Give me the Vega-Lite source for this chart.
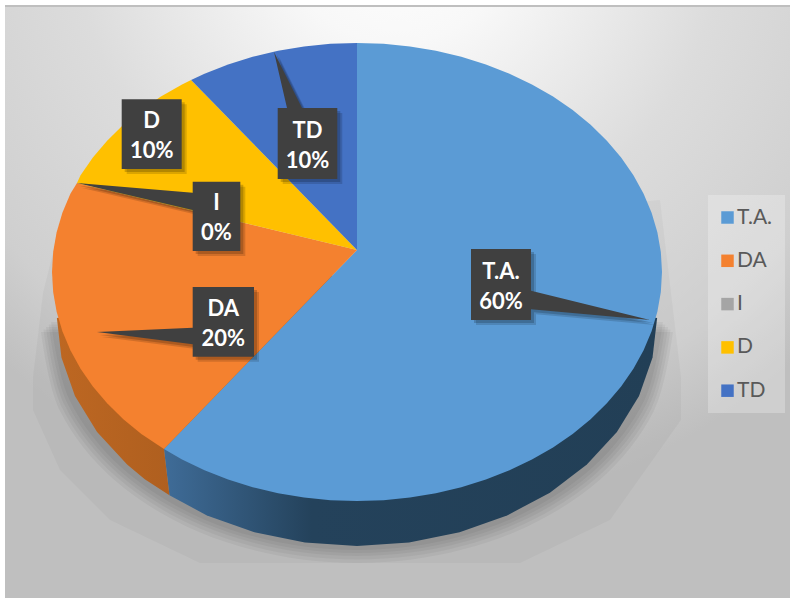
{"$schema":"https://vega.github.io/schema/vega-lite/v6.json","width":790,"height":599,"padding":0,"autosize":"none","background":"white","config":{"view":{"stroke":null}},
"datasets":{
"frame":[{"x":-1.1541,"x2":1.41967,"y":1.1572,"y2":-1.4236}],
"edge":[{"x":-1.1541,"x2":1.41967,"y":1.1659,"y2":1.1572}],
"outerShadow":[{"i":0,"x":-0.9967,"y":0.083},{"i":1,"x":-1.0295,"y":-0.0917},{"i":2,"x":-1.0623,"y":-0.4585},{"i":3,"x":-1.0623,"y":-0.6026},{"i":4,"x":-0.9738,"y":-0.8646},{"i":5,"x":-0.8098,"y":-1.083},{"i":6,"x":-0.5148,"y":-1.2707},{"i":7,"x":0.5344,"y":-1.2707},{"i":8,"x":0.8295,"y":-1.083},{"i":9,"x":1.0623,"y":-0.6463},{"i":10,"x":1.0623,"y":-0.4585},{"i":11,"x":0.9934,"y":0.3144},{"i":12,"x":-0.9967,"y":0.083}],
"softShadow":[
{"k":"a","i":0,"x":1.036,"y":-0.262},{"k":"a","i":1,"x":0.9735,"y":-0.607},{"k":"a","i":2,"x":0.7936,"y":-0.9104},{"k":"a","i":3,"x":0.518,"y":-1.1355},{"k":"a","i":4,"x":0.1799,"y":-1.2554},{"k":"a","i":5,"x":-0.1799,"y":-1.2554},{"k":"a","i":6,"x":-0.518,"y":-1.1355},{"k":"a","i":7,"x":-0.7936,"y":-0.9104},{"k":"a","i":8,"x":-0.9735,"y":-0.607},{"k":"a","i":9,"x":-1.036,"y":-0.262},
{"k":"d","i":0,"x":1.028,"y":-0.251},{"k":"d","i":1,"x":0.966,"y":-0.5946},{"k":"d","i":2,"x":0.7875,"y":-0.8967},{"k":"d","i":3,"x":0.514,"y":-1.1208},{"k":"d","i":4,"x":0.1785,"y":-1.2402},{"k":"d","i":5,"x":-0.1785,"y":-1.2402},{"k":"d","i":6,"x":-0.514,"y":-1.1208},{"k":"d","i":7,"x":-0.7875,"y":-0.8967},{"k":"d","i":8,"x":-0.966,"y":-0.5946},{"k":"d","i":9,"x":-1.028,"y":-0.251},
{"k":"b","i":0,"x":1.02,"y":-0.2402},{"k":"b","i":1,"x":0.9585,"y":-0.5822},{"k":"b","i":2,"x":0.7813,"y":-0.883},{"k":"b","i":3,"x":0.51,"y":-1.1062},{"k":"b","i":4,"x":0.1771,"y":-1.225},{"k":"b","i":5,"x":-0.1771,"y":-1.225},{"k":"b","i":6,"x":-0.51,"y":-1.1062},{"k":"b","i":7,"x":-0.7813,"y":-0.883},{"k":"b","i":8,"x":-0.9585,"y":-0.5822},{"k":"b","i":9,"x":-1.02,"y":-0.2402},
{"k":"e","i":0,"x":1.011,"y":-0.229},{"k":"e","i":1,"x":0.9505,"y":-0.5705},{"k":"e","i":2,"x":0.7748,"y":-0.8707},{"k":"e","i":3,"x":0.5058,"y":-1.0934},{"k":"e","i":4,"x":0.1756,"y":-1.2119},{"k":"e","i":5,"x":-0.1756,"y":-1.2119},{"k":"e","i":6,"x":-0.5058,"y":-1.0934},{"k":"e","i":7,"x":-0.7748,"y":-0.8707},{"k":"e","i":8,"x":-0.9505,"y":-0.5705},{"k":"e","i":9,"x":-1.011,"y":-0.229},
{"k":"c","i":0,"x":1.003,"y":-0.2183},{"k":"c","i":1,"x":0.9425,"y":-0.5588},{"k":"c","i":2,"x":0.7683,"y":-0.8583},{"k":"c","i":3,"x":0.5015,"y":-1.0805},{"k":"c","i":4,"x":0.1741,"y":-1.1988},{"k":"c","i":5,"x":-0.1741,"y":-1.1988},{"k":"c","i":6,"x":-0.5015,"y":-1.0805},{"k":"c","i":7,"x":-0.7683,"y":-0.8583},{"k":"c","i":8,"x":-0.9425,"y":-0.5588},{"k":"c","i":9,"x":-1.003,"y":-0.2183}],
"wallTA":[{"i":0,"x":0.984,"y":-0.2009},{"i":1,"x":0.969,"y":-0.3738},{"i":2,"x":0.9247,"y":-0.5414},{"i":3,"x":0.8522,"y":-0.6987},{"i":4,"x":0.7537,"y":-0.8409},{"i":5,"x":0.6325,"y":-0.9635},{"i":6,"x":0.492,"y":-1.0631},{"i":7,"x":0.3365,"y":-1.1365},{"i":8,"x":0.1708,"y":-1.1814},{"i":9,"x":0,"y":-1.1965},{"i":10,"x":-0.1708,"y":-1.1814},{"i":11,"x":-0.3365,"y":-1.1365},{"i":12,"x":-0.492,"y":-1.0631},{"i":13,"x":-0.615,"y":-0.975},{"i":14,"x":-0.633,"y":-0.773},{"i":15,"x":0,"y":0},{"i":16,"x":0.984,"y":-0.2009}],
"wallDA":[{"i":0,"x":-0.633,"y":-0.773},{"i":1,"x":-0.615,"y":-0.975},{"i":2,"x":-0.6958,"y":-0.9049},{"i":3,"x":-0.7537,"y":-0.8409},{"i":4,"x":-0.8522,"y":-0.6987},{"i":5,"x":-0.9247,"y":-0.5414},{"i":6,"x":-0.969,"y":-0.3738},{"i":7,"x":-0.984,"y":-0.2009},{"i":8,"x":0,"y":0},{"i":9,"x":-0.633,"y":-0.773}],
"slices":[
{"slice":"T.A.","i":0,"x":0,"y":0.096},{"slice":"T.A.","i":1,"x":0,"y":1},{"slice":"T.A.","i":2,"x":0.0872,"y":0.9962},{"slice":"T.A.","i":3,"x":0.1736,"y":0.9848},{"slice":"T.A.","i":4,"x":0.2588,"y":0.9659},{"slice":"T.A.","i":5,"x":0.342,"y":0.9397},{"slice":"T.A.","i":6,"x":0.4226,"y":0.9063},{"slice":"T.A.","i":7,"x":0.5,"y":0.866},{"slice":"T.A.","i":8,"x":0.5736,"y":0.8192},{"slice":"T.A.","i":9,"x":0.6428,"y":0.766},{"slice":"T.A.","i":10,"x":0.7071,"y":0.7071},{"slice":"T.A.","i":11,"x":0.766,"y":0.6428},{"slice":"T.A.","i":12,"x":0.8192,"y":0.5736},{"slice":"T.A.","i":13,"x":0.866,"y":0.5},{"slice":"T.A.","i":14,"x":0.9063,"y":0.4226},{"slice":"T.A.","i":15,"x":0.9397,"y":0.342},{"slice":"T.A.","i":16,"x":0.9659,"y":0.2588},{"slice":"T.A.","i":17,"x":0.9848,"y":0.1736},{"slice":"T.A.","i":18,"x":0.9962,"y":0.0872},{"slice":"T.A.","i":19,"x":1,"y":0},{"slice":"T.A.","i":20,"x":0.9962,"y":-0.0872},{"slice":"T.A.","i":21,"x":0.9848,"y":-0.1736},{"slice":"T.A.","i":22,"x":0.9659,"y":-0.2588},{"slice":"T.A.","i":23,"x":0.9397,"y":-0.342},{"slice":"T.A.","i":24,"x":0.9063,"y":-0.4226},{"slice":"T.A.","i":25,"x":0.866,"y":-0.5},{"slice":"T.A.","i":26,"x":0.8192,"y":-0.5736},{"slice":"T.A.","i":27,"x":0.766,"y":-0.6428},{"slice":"T.A.","i":28,"x":0.7071,"y":-0.7071},{"slice":"T.A.","i":29,"x":0.6428,"y":-0.766},{"slice":"T.A.","i":30,"x":0.5736,"y":-0.8192},{"slice":"T.A.","i":31,"x":0.5,"y":-0.866},{"slice":"T.A.","i":32,"x":0.4226,"y":-0.9063},{"slice":"T.A.","i":33,"x":0.342,"y":-0.9397},{"slice":"T.A.","i":34,"x":0.2588,"y":-0.9659},{"slice":"T.A.","i":35,"x":0.1736,"y":-0.9848},{"slice":"T.A.","i":36,"x":0.0872,"y":-0.9962},{"slice":"T.A.","i":37,"x":0,"y":-1},{"slice":"T.A.","i":38,"x":-0.0872,"y":-0.9962},{"slice":"T.A.","i":39,"x":-0.1736,"y":-0.9848},{"slice":"T.A.","i":40,"x":-0.2588,"y":-0.9659},{"slice":"T.A.","i":41,"x":-0.342,"y":-0.9397},{"slice":"T.A.","i":42,"x":-0.4226,"y":-0.9063},{"slice":"T.A.","i":43,"x":-0.5,"y":-0.866},{"slice":"T.A.","i":44,"x":-0.5736,"y":-0.8192},{"slice":"T.A.","i":45,"x":-0.633,"y":-0.773},{"slice":"T.A.","i":46,"x":0,"y":0.096},
{"slice":"DA","i":0,"x":0,"y":0.096},{"slice":"DA","i":1,"x":-0.633,"y":-0.773},{"slice":"DA","i":2,"x":-0.7071,"y":-0.7071},{"slice":"DA","i":3,"x":-0.766,"y":-0.6428},{"slice":"DA","i":4,"x":-0.8192,"y":-0.5736},{"slice":"DA","i":5,"x":-0.866,"y":-0.5},{"slice":"DA","i":6,"x":-0.9063,"y":-0.4226},{"slice":"DA","i":7,"x":-0.9397,"y":-0.342},{"slice":"DA","i":8,"x":-0.9659,"y":-0.2588},{"slice":"DA","i":9,"x":-0.9848,"y":-0.1736},{"slice":"DA","i":10,"x":-0.9962,"y":-0.0872},{"slice":"DA","i":11,"x":-1,"y":0},{"slice":"DA","i":12,"x":-0.9962,"y":0.0872},{"slice":"DA","i":13,"x":-0.9848,"y":0.1736},{"slice":"DA","i":14,"x":-0.9659,"y":0.2588},{"slice":"DA","i":15,"x":-0.9397,"y":0.342},{"slice":"DA","i":16,"x":-0.918,"y":0.389},{"slice":"DA","i":17,"x":0,"y":0.096},
{"slice":"D","i":0,"x":0,"y":0.096},{"slice":"D","i":1,"x":-0.918,"y":0.389},{"slice":"D","i":2,"x":-0.9063,"y":0.4226},{"slice":"D","i":3,"x":-0.866,"y":0.5},{"slice":"D","i":4,"x":-0.8192,"y":0.5736},{"slice":"D","i":5,"x":-0.766,"y":0.6428},{"slice":"D","i":6,"x":-0.7071,"y":0.7071},{"slice":"D","i":7,"x":-0.6428,"y":0.766},{"slice":"D","i":8,"x":-0.5736,"y":0.8192},{"slice":"D","i":9,"x":-0.544,"y":0.838},{"slice":"D","i":10,"x":0,"y":0.096},
{"slice":"TD","i":0,"x":0,"y":0.096},{"slice":"TD","i":1,"x":-0.544,"y":0.838},{"slice":"TD","i":2,"x":-0.5,"y":0.866},{"slice":"TD","i":3,"x":-0.4226,"y":0.9063},{"slice":"TD","i":4,"x":-0.342,"y":0.9397},{"slice":"TD","i":5,"x":-0.2588,"y":0.9659},{"slice":"TD","i":6,"x":-0.1736,"y":0.9848},{"slice":"TD","i":7,"x":-0.0872,"y":0.9962},{"slice":"TD","i":8,"x":0,"y":1},{"slice":"TD","i":9,"x":0,"y":0.096}],
"callouts":[
{"c":"D","i":0,"x":-0.7715,"y":0.7541},{"c":"D","i":1,"x":-0.5748,"y":0.7541},{"c":"D","i":2,"x":-0.5748,"y":0.4498},{"c":"D","i":3,"x":-0.7715,"y":0.4498},{"c":"D","i":4,"x":-0.7715,"y":0.7541},
{"c":"TD","i":0,"x":-0.26,"y":0.7162},{"c":"TD","i":1,"x":-0.2295,"y":0.7162},{"c":"TD","i":2,"x":-0.2721,"y":0.9607},{"c":"TD","i":3,"x":-0.1803,"y":0.7162},{"c":"TD","i":4,"x":-0.0646,"y":0.7162},{"c":"TD","i":5,"x":-0.0646,"y":0.4061},{"c":"TD","i":6,"x":-0.26,"y":0.4061},{"c":"TD","i":7,"x":-0.26,"y":0.7162},
{"c":"I","i":0,"x":-0.5387,"y":0.3943},{"c":"I","i":1,"x":-0.3826,"y":0.3943},{"c":"I","i":2,"x":-0.3826,"y":0.0917},{"c":"I","i":3,"x":-0.5387,"y":0.0917},{"c":"I","i":4,"x":-0.5387,"y":0.2707},{"c":"I","i":5,"x":-0.918,"y":0.3886},{"c":"I","i":6,"x":-0.5387,"y":0.3463},{"c":"I","i":7,"x":-0.5387,"y":0.3943},
{"c":"DA","i":0,"x":-0.5387,"y":-0.0655},{"c":"DA","i":1,"x":-0.3377,"y":-0.0655},{"c":"DA","i":2,"x":-0.3377,"y":-0.3699},{"c":"DA","i":3,"x":-0.5387,"y":-0.3699},{"c":"DA","i":4,"x":-0.5387,"y":-0.3157},{"c":"DA","i":5,"x":-0.8525,"y":-0.262},{"c":"DA","i":6,"x":-0.5387,"y":-0.2432},{"c":"DA","i":7,"x":-0.5387,"y":-0.0655},
{"c":"T.A.","i":0,"x":0.3738,"y":0.1004},{"c":"T.A.","i":1,"x":0.5705,"y":0.1004},{"c":"T.A.","i":2,"x":0.5705,"y":-0.0817},{"c":"T.A.","i":3,"x":0.9607,"y":-0.2096},{"c":"T.A.","i":4,"x":0.5705,"y":-0.1629},{"c":"T.A.","i":5,"x":0.5705,"y":-0.2096},{"c":"T.A.","i":6,"x":0.3738,"y":-0.2096},{"c":"T.A.","i":7,"x":0.3738,"y":0.1004}],
"labels":[{"label":"T.A.\n60%","x":0.4721,"y":-0.0546},{"label":"DA\n20%","x":-0.4384,"y":-0.2183},{"label":"I\n0%","x":-0.4607,"y":0.2445},{"label":"D\n10%","x":-0.6731,"y":0.6026},{"label":"TD\n10%","x":-0.1623,"y":0.559}]
},
"encoding":{"x":{"field":"x","type":"quantitative","axis":null,"scale":{"domain":[-1.17049,1.41967],"nice":false,"zero":false}},"y":{"field":"y","type":"quantitative","axis":null,"scale":{"domain":[-1.42795,1.18777],"nice":false,"zero":false}}},
"layer":[
{"data":{"name":"edge"},"mark":{"type":"rect","color":"#bfbfbf"},"encoding":{"x2":{"field":"x2"},"y2":{"field":"y2"}}},
{"data":{"name":"frame"},"mark":{"type":"rect","color":{"gradient":"radial","x1":0.5,"y1":0.02,"r1":0,"x2":0.5,"y2":0.02,"r2":0.75,"stops":[{"offset":0,"color":"#ffffff"},{"offset":0.2,"color":"#f8f8f8"},{"offset":0.55,"color":"#dcdcdc"},{"offset":0.85,"color":"#cfcfcf"},{"offset":1,"color":"#bfbfbf"}]}},"encoding":{"x2":{"field":"x2"},"y2":{"field":"y2"}}},
{"data":{"name":"outerShadow"},"mark":{"type":"line","interpolate":"linear","fill":"#000000","fillOpacity":0.03,"stroke":"transparent"},"encoding":{"order":{"field":"i"}}},
{"data":{"name":"softShadow"},"mark":{"type":"line","interpolate":"cardinal","fill":"#000000","fillOpacity":0.045,"stroke":"transparent"},"encoding":{"detail":{"field":"k"},"order":{"field":"i"}}},
{"data":{"name":"wallTA"},"mark":{"type":"line","stroke":"transparent","fill":{"gradient":"linear","x1":0,"y1":0,"x2":1,"y2":0,"stops":[{"offset":0,"color":"#3f6c98"},{"offset":0.3,"color":"#24425b"},{"offset":1,"color":"#223f56"}]}},"encoding":{"order":{"field":"i"}}},
{"data":{"name":"wallDA"},"mark":{"type":"line","stroke":"transparent","fill":{"gradient":"linear","x1":0,"y1":0,"x2":1,"y2":0,"stops":[{"offset":0,"color":"#bd6722"},{"offset":1,"color":"#98521a"}]}},"encoding":{"order":{"field":"i"}}},
{"data":{"name":"slices"},"mark":{"type":"line","stroke":"transparent"},"encoding":{"fill":{"field":"slice","type":"nominal","scale":{"domain":["T.A.","DA","I","D","TD"],"range":["#5B9BD5","#F4812F","#A5A5A5","#FFC000","#4472C4"]},"legend":{"title":null,"orient":"none","legendX":708,"legendY":195,"padding":12,"fillColor":"rgba(255,255,255,0.25)","symbolType":"square","symbolSize":156,"symbolStrokeWidth":0,"symbolOpacity":1,"symbolOffset":-3,"labelFont":"Lato","labelFontSize":21,"labelColor":"#595959","labelOffset":-1,"rowPadding":21.3,"labelLimit":80}},"order":{"field":"i"}}},
{"data":{"name":"callouts"},"mark":{"type":"line","fill":"#000000","fillOpacity":0.14,"stroke":"transparent","xOffset":5,"yOffset":5},"encoding":{"detail":{"field":"c"},"order":{"field":"i"}}},
{"data":{"name":"callouts"},"mark":{"type":"line","fill":"#000000","fillOpacity":0.18,"stroke":"transparent","xOffset":3,"yOffset":3},"encoding":{"detail":{"field":"c"},"order":{"field":"i"}}},
{"data":{"name":"callouts"},"mark":{"type":"line","fill":"#404040","stroke":"transparent"},"encoding":{"detail":{"field":"c"},"order":{"field":"i"}}},
{"data":{"name":"labels"},"mark":{"type":"text","font":"Lato","fontSize":22,"fontWeight":"bold","color":"#ffffff","lineBreak":"\n","lineHeight":30,"align":"center","baseline":"middle","dy":-13},"encoding":{"text":{"field":"label"}}}
]}
